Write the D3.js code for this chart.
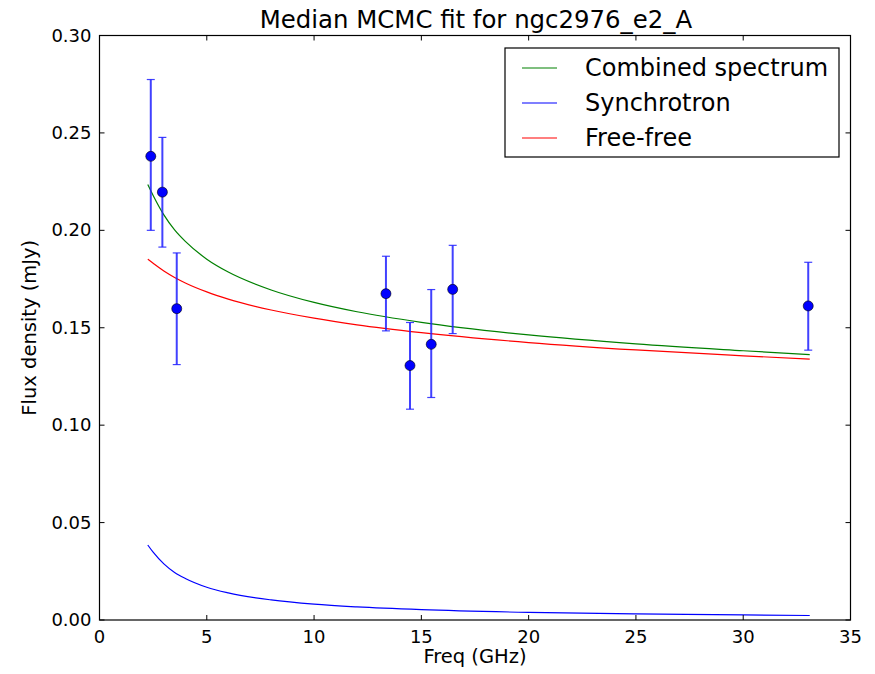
<!DOCTYPE html>
<html>
<head>
<meta charset="utf-8">
<script src="https://cdn.jsdelivr.net/npm/d3@7"></script>
<style>
  body { margin: 0; background: #fff; }
  text { font-family: 'DejaVu Sans', sans-serif; fill: #000; }
</style>
</head>
<body>
<svg width="875" height="674"></svg>
<script>
var svg = d3.select('svg');

// measured points (GHz, mJy) with error bars
var freq = [2.39, 2.93, 3.6, 13.35, 14.47, 15.46, 16.46, 33.03];
var flux = [0.238, 0.2196, 0.1598, 0.1675, 0.1306, 0.1415, 0.1697, 0.1612];
var errLo = [0.200, 0.1914, 0.1311, 0.1484, 0.1082, 0.1142, 0.147, 0.1385];
var errHi = [0.2774, 0.2477, 0.1884, 0.1867, 0.1527, 0.1696, 0.1923, 0.1836];

// model curves
var modelFreq = [2.25, 2.5, 3, 3.5, 4, 5, 6, 8, 10, 12, 15, 20, 25, 30, 33.1];
var combined = [0.2235, 0.2179, 0.2079, 0.2002, 0.1943, 0.1852, 0.1786, 0.1694, 0.1630, 0.1582, 0.1528, 0.1463, 0.1417, 0.1382, 0.1362];
var synchrotron = [0.0385, 0.0348, 0.0288, 0.0244, 0.0213, 0.0168, 0.0139, 0.0103, 0.0081, 0.0067, 0.0053, 0.0039, 0.0031, 0.0026, 0.0023];
var freefree = [0.1852, 0.1831, 0.1791, 0.1758, 0.1730, 0.1684, 0.1647, 0.1591, 0.1549, 0.1515, 0.1475, 0.1424, 0.1386, 0.1356, 0.1339];

var xTicks = [0, 5, 10, 15, 20, 25, 30, 35];
var yTicks = [0, 0.05, 0.10, 0.15, 0.20, 0.25, 0.30];

var series = [
    {name: 'Combined spectrum', vals: combined, color: '#008000'},
    {name: 'Synchrotron', vals: synchrotron, color: '#0000ff'},
    {name: 'Free-free', vals: freefree, color: '#ff0000'}
];

var plot = {l: 99.5, r: 850.5, t: 35.5, b: 620};

var x = d3.scaleLinear().domain([0, 35]).range([plot.l, plot.r]);
var y = d3.scaleLinear().domain([0, 0.30]).range([plot.b, plot.t]);

// title
svg.append('text')
    .attr('text-anchor','middle')
    .attr('x',476)
    .attr('y',28)
    .style('font-size','24.4px')
    .text('Median MCMC fit for ngc2976_e2_A');

// model lines
var line = d3.line()
    .x(function(d,i){ return x(modelFreq[i]); })
    .y(function(d){ return y(d); })
    .curve(d3.curveMonotoneX);

series.forEach(function(s){
    svg.append('path')
        .attr('d', line(s.vals))
        .attr('fill','none')
        .attr('stroke', s.color)
        .attr('stroke-width', 1.2);
});

// error bars
var pts = svg.append('g');
freq.forEach(function(f,i){
    var g = pts.append('g').attr('stroke','#2020ff').attr('stroke-width',2).attr('stroke-opacity',0.85);
    g.append('line')
        .attr('x1',x(f)).attr('x2',x(f))
        .attr('y1',y(errLo[i])).attr('y2',y(errHi[i]));
    g.append('line')
        .attr('x1',x(f)-4).attr('x2',x(f)+4)
        .attr('y1',y(errLo[i])).attr('y2',y(errLo[i]))
        .attr('stroke-width',1.2);
    g.append('line')
        .attr('x1',x(f)-4).attr('x2',x(f)+4)
        .attr('y1',y(errHi[i])).attr('y2',y(errHi[i]))
        .attr('stroke-width',1.2);
});
pts.selectAll('circle')
    .data(freq)
    .enter().append('circle')
    .attr('cx',function(d){ return x(d); })
    .attr('cy',function(d,i){ return y(flux[i]); })
    .attr('r',5)
    .attr('fill','#0000ff')
    .attr('stroke','#000')
    .attr('stroke-width',0.6);

// frame
svg.append('rect')
    .attr('x',plot.l).attr('y',plot.t)
    .attr('width',plot.r-plot.l).attr('height',plot.b-plot.t)
    .attr('fill','none').attr('stroke','#000').attr('stroke-width',1.2);

// ticks (inside, all four sides)
var tickLen = 5;
xTicks.forEach(function(t){
    svg.append('line').attr('x1',x(t)).attr('x2',x(t)).attr('y1',plot.b).attr('y2',plot.b-tickLen).attr('stroke','#000');
    svg.append('line').attr('x1',x(t)).attr('x2',x(t)).attr('y1',plot.t).attr('y2',plot.t+tickLen).attr('stroke','#000');
    svg.append('text')
        .attr('text-anchor','middle')
        .attr('x',x(t)).attr('y',plot.b+23)
        .style('font-size','18px')
        .text(t);
});
yTicks.forEach(function(t){
    svg.append('line').attr('x1',plot.l).attr('x2',plot.l+tickLen).attr('y1',y(t)).attr('y2',y(t)).attr('stroke','#000');
    svg.append('line').attr('x1',plot.r).attr('x2',plot.r-tickLen).attr('y1',y(t)).attr('y2',y(t)).attr('stroke','#000');
    svg.append('text')
        .attr('text-anchor','end')
        .attr('x',plot.l-8).attr('y',y(t)+6)
        .style('font-size','18px')
        .text(d3.format('.2f')(t));
});

// axis labels
svg.append('text')
    .attr('text-anchor','middle')
    .attr('x',475).attr('y',663)
    .style('font-size','19.5px')
    .text('Freq (GHz)');
svg.append('text')
    .attr('text-anchor','middle')
    .attr('transform','translate(36,'+((plot.t+plot.b)/2)+') rotate(-90)')
    .style('font-size','19.5px')
    .text('Flux density (mJy)');

// legend
var legend = svg.append('g').attr('transform','translate(505,48)');
legend.append('rect')
    .attr('width',334).attr('height',109)
    .attr('fill','#fff').attr('stroke','#000').attr('stroke-width',1.2);
series.forEach(function(s,i){
    var ly = 20 + i*35;
    legend.append('line')
        .attr('x1',17).attr('x2',52).attr('y1',ly).attr('y2',ly)
        .attr('stroke',s.color).attr('stroke-width',1.2);
    legend.append('text')
        .attr('x',80).attr('y',ly+8)
        .style('font-size','24px')
        .text(s.name);
});
</script>
</body>
</html>
